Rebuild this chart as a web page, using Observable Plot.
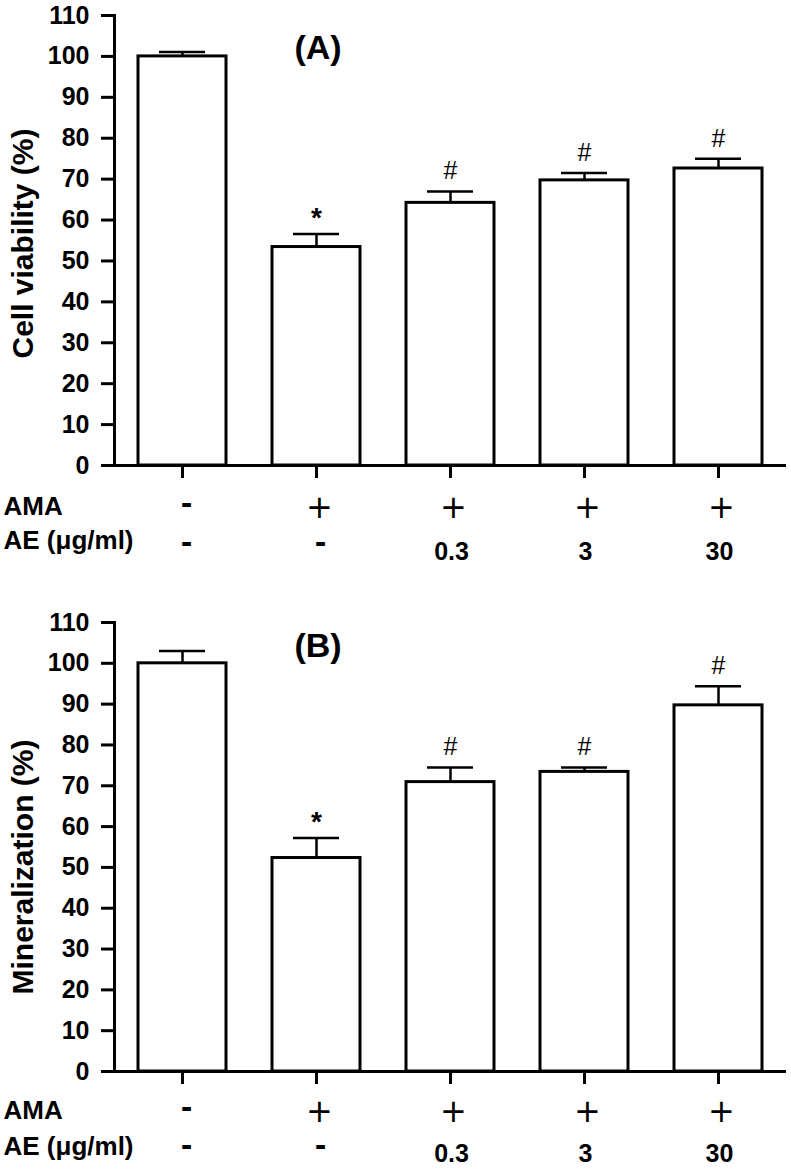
<!DOCTYPE html>
<html><head><meta charset="utf-8">
<script src="https://cdn.jsdelivr.net/npm/d3@7"></script>
<script src="https://cdn.jsdelivr.net/npm/@observablehq/plot@0.6"></script>
<style>
body{margin:0;background:#fff;}
#chart svg{display:block;}
</style></head><body><div id="chart"></div>
<script>
// Treatment groups (x categories) and the two label rows under the x axis
const groups = ["Control", "AMA", "AMA + AE 0.3", "AMA + AE 3", "AMA + AE 30"];
const amaRow = ["-", "+", "+", "+", "+"];
const aeRow = ["-", "-", "0.3", "3", "30"];
const yTicks = [0, 10, 20, 30, 40, 50, 60, 70, 80, 90, 100, 110];

// Panel A: cell viability (%)
const viabilityMean = [100, 53.4, 64.2, 69.7, 72.6];
const viabilitySem = [1.1, 3.2, 2.8, 1.8, 2.4];
const viabilitySig = ["", "*", "#", "#", "#"];

// Panel B: mineralization (%)
const mineralMean = [100, 52.3, 70.9, 73.4, 89.7];
const mineralSem = [3.0, 4.9, 3.6, 1.1, 4.7];
const mineralSig = ["", "*", "#", "#", "#"];

const FONT = "'Liberation Sans', Arial, Helvetica, sans-serif";
const SYM_FONT = "'DejaVu Sans', 'Liberation Sans', sans-serif";

function panel({means, sems, sigs, yLabel, labelDy, tag, height, marginTop, tagDy, rowOff}) {
  const rows = groups.map((g, i) => ({
    group: g, mean: means[i], cap: means[i] + sems[i], sig: sigs[i], ama: amaRow[i], ae: aeRow[i]
  }));
  const marginBottom = height - 465;
  const isNum = d => /\d/.test(d.ae);
  const rowText = {frameAnchor: "bottom", lineAnchor: "middle", textAnchor: "middle"};
  const dashText = {...rowText, fontFamily: SYM_FONT, fontSize: 28, fontWeight: "bold", dx: 4};
  return Plot.plot({
    width: 791, height, marginTop, marginBottom, marginLeft: 114, marginRight: 5,
    style: {fontFamily: FONT, background: "white", color: "black", overflow: "visible"},
    x: {domain: groups, paddingInner: 0.345, paddingOuter: 0.175, axis: null},
    y: {domain: [0, 110], axis: null},
    marks: [
      Plot.barY(rows, {x: "group", y: "mean", fill: "white", stroke: "black", strokeWidth: 3}),
      Plot.ruleX(rows, {x: "group", y1: "mean", y2: "cap", stroke: "black", strokeWidth: 2.5}),
      Plot.tickY(rows, {x: "group", y: "cap", stroke: "black", strokeWidth: 2.5, insetLeft: 21, insetRight: 21}),
      Plot.text(rows.filter(d => d.sig === "*"), {x: "group", y: "cap", text: "sig", dy: -16, fontSize: 28, fontWeight: "bold"}),
      Plot.text(rows.filter(d => d.sig === "#"), {x: "group", y: "cap", text: "sig", dy: -20, fontSize: 25}),
      Plot.axisY({ticks: yTicks, tickSize: 13, tickPadding: 12, strokeWidth: 3, fontSize: 25, fontWeight: "bold", label: null}),
      Plot.axisX({tickSize: 13, strokeWidth: 3, tickFormat: () => "", label: null}),
      Plot.ruleY([0], {stroke: "black", strokeWidth: 3}),
      Plot.frame({anchor: "left", stroke: "black", strokeWidth: 3}),
      // y-axis title
      Plot.text([yLabel], {text: d => d, frameAnchor: "left", textAnchor: "middle", lineAnchor: "middle", rotate: -90, dx: -91, dy: labelDy, fontSize: 30, fontWeight: "bold"}),
      // panel tag
      Plot.text([tag], {text: d => d, frameAnchor: "top-left", textAnchor: "middle", lineAnchor: "middle", dx: 203.5, dy: tagDy, fontSize: 34, fontWeight: "bold"}),
      // row labels
      Plot.text(["AMA"], {text: d => d, frameAnchor: "bottom-left", lineAnchor: "middle", textAnchor: "start", dx: 3 - 114, dy: rowOff.amaLabel, fontSize: 26, fontWeight: "bold"}),
      Plot.text(["AE (\u03bcg/ml)"], {text: d => d, frameAnchor: "bottom-left", lineAnchor: "middle", textAnchor: "start", dx: 3 - 114, dy: rowOff.aeLabel, fontSize: 26, fontWeight: "bold"}),
      // AMA row
      Plot.text(rows.filter(d => d.ama === "+"), {...rowText, x: "group", text: "ama", fontFamily: SYM_FONT, dx: 3, dy: rowOff.plus, fontSize: 32}),
      Plot.text(rows.filter(d => d.ama === "-"), {...dashText, x: "group", text: "ama", dy: rowOff.amaDash}),
      // AE row
      Plot.text(rows.filter(d => !isNum(d)), {...dashText, x: "group", text: "ae", dy: rowOff.aeDash}),
      Plot.text(rows.filter(isNum), {...rowText, x: "group", text: "ae", dx: 1, dy: rowOff.aeNum, fontSize: 25, fontWeight: "bold"})
    ]
  });
}

const chart = document.getElementById("chart");
chart.appendChild(panel({
  means: viabilityMean, sems: viabilitySem, sigs: viabilitySig,
  yLabel: "Cell viability (%)", labelDy: 3, tag: "(A)", height: 606, marginTop: 15, tagDy: 33,
  rowOff: {amaLabel: 41, aeLabel: 75, plus: 42, amaDash: 39, aeDash: 78, aeNum: 86}
}));
chart.appendChild(panel({
  means: mineralMean, sems: mineralSem, sigs: mineralSig,
  yLabel: "Mineralization (%)", labelDy: 20, tag: "(B)", height: 564, marginTop: 16, tagDy: 24,
  rowOff: {amaLabel: 39, aeLabel: 75, plus: 40, amaDash: 37, aeDash: 75, aeNum: 82}
}));
</script></body></html>
